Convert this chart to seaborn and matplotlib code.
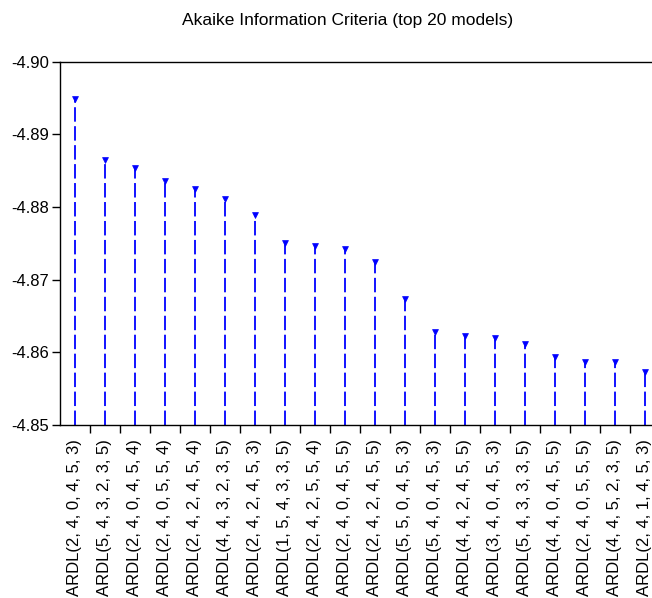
import matplotlib
matplotlib.use("Agg")
import matplotlib.pyplot as plt
import seaborn as sns
import pandas as pd
import numpy as np
from matplotlib.ticker import FixedLocator, FormatStrFormatter

models = [
    "ARDL(2, 4, 0, 4, 5, 3)", "ARDL(5, 4, 3, 2, 3, 5)", "ARDL(2, 4, 0, 4, 5, 4)",
    "ARDL(2, 4, 0, 5, 5, 4)", "ARDL(2, 4, 2, 4, 5, 4)", "ARDL(4, 4, 3, 2, 3, 5)",
    "ARDL(2, 4, 2, 4, 5, 3)", "ARDL(1, 5, 4, 3, 3, 5)", "ARDL(2, 4, 2, 5, 5, 4)",
    "ARDL(2, 4, 0, 4, 5, 5)", "ARDL(2, 4, 2, 4, 5, 5)", "ARDL(5, 5, 0, 4, 5, 3)",
    "ARDL(5, 4, 0, 4, 5, 3)", "ARDL(4, 4, 2, 4, 5, 5)", "ARDL(3, 4, 0, 4, 5, 3)",
    "ARDL(5, 4, 3, 3, 3, 5)", "ARDL(4, 4, 0, 4, 5, 5)", "ARDL(2, 4, 0, 5, 5, 5)",
    "ARDL(4, 4, 5, 2, 3, 5)", "ARDL(2, 4, 1, 4, 5, 3)",
]
aic = [
    -4.8948, -4.8865, -4.8853, -4.8835, -4.8825, -4.8811, -4.8789, -4.8750,
    -4.8746, -4.8742, -4.8724, -4.8673, -4.8628, -4.8623, -4.8620, -4.8611,
    -4.8593, -4.8586, -4.8586, -4.8573,
]
y_ticks = [-4.90, -4.89, -4.88, -4.87, -4.86, -4.85]
title = "Akaike Information Criteria (top 20 models)"

sns.set_style("ticks")
plt.rcParams["font.family"] = ["Liberation Sans", "DejaVu Sans"]
plt.rcParams["text.color"] = "black"
plt.rcParams["xtick.color"] = "black"
plt.rcParams["ytick.color"] = "black"
plt.rcParams["axes.labelcolor"] = "black"

df = pd.DataFrame({"pos": np.arange(len(models)), "model": models, "aic": aic})

W, H = 652, 598
fig = plt.figure(figsize=(W / 100, H / 100), dpi=100)
ax = fig.add_axes([60 / W, (H - 425) / H, 600 / W, (425 - 61.5) / H])

base = y_ticks[-1]
ax.vlines(df["pos"], base, df["aic"], colors="#0000ff", linewidth=1.3,
          linestyles=(0, (8, 2.5)))
sns.scatterplot(data=df, x="pos", y="aic", marker="v", color="#0000ff",
                s=18, edgecolor="#0000ff", linewidth=0.5, ax=ax, zorder=3)

ax.set_xlim(-0.5, len(models) - 0.5)
ax.set_ylim(y_ticks[-1], y_ticks[0])
ax.set_yticks(y_ticks)
ax.yaxis.set_major_formatter(FormatStrFormatter("%.2f"))
ax.set_xticks(df["pos"])
ax.set_xticklabels(models, rotation=90, fontsize=12, color="black")
ax.xaxis.set_minor_locator(FixedLocator(np.arange(0.5, len(models) - 0.5, 1.0)))
ax.tick_params(axis="x", which="major", length=0, pad=10, labelcolor="black")
ax.tick_params(axis="x", which="minor", length=6, width=1, color="black", direction="out")
ax.tick_params(axis="y", length=6, width=1, color="black", direction="out",
               labelsize=12, pad=2, labelcolor="black")
ax.set_xlabel("")
ax.set_ylabel("")
for s in ["left", "top", "bottom"]:
    ax.spines[s].set_color("black")
    ax.spines[s].set_linewidth(1)
ax.spines["right"].set_visible(False)

fig.text(348 / W, 1 - 21 / H, title, ha="center", va="center", fontsize=12.5, color="black")

fig.savefig("out.png", dpi=100, facecolor="white")
